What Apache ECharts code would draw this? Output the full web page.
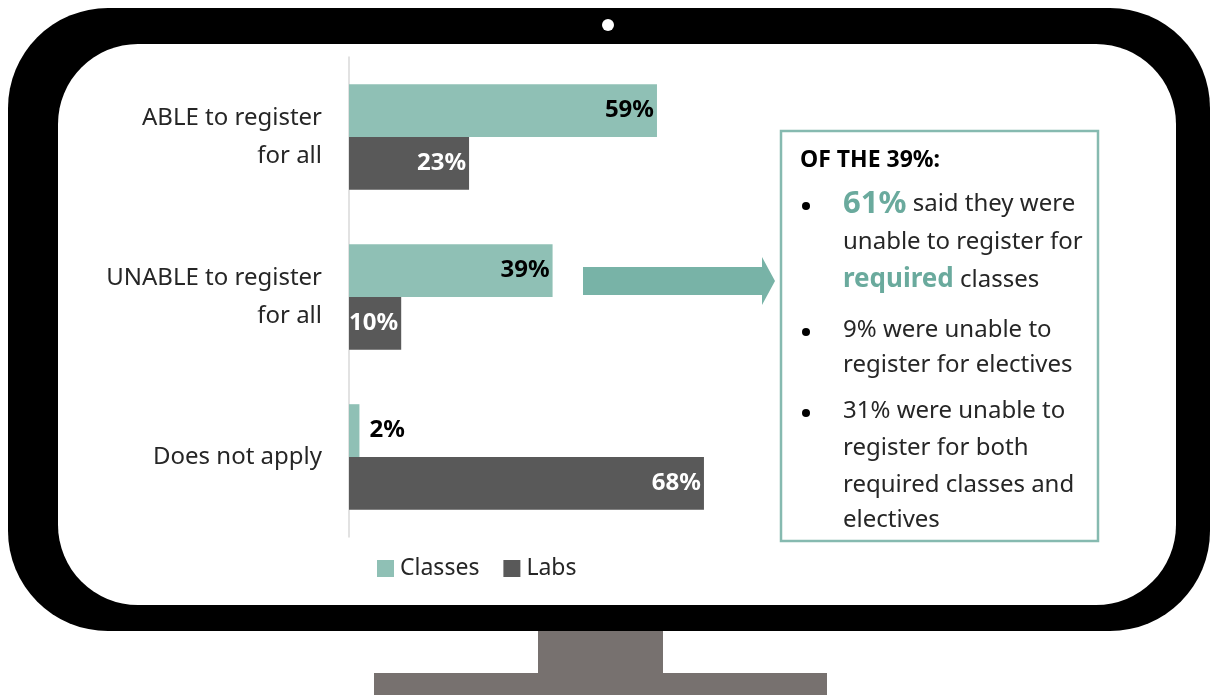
<!DOCTYPE html>
<html>
<head>
<meta charset="utf-8">
<script src="https://cdn.jsdelivr.net/npm/echarts@6/dist/echarts.min.js"></script>
<style>
  html, body { margin: 0; padding: 0; background: #fff; }
  #chart { width: 1213px; height: 695px; }
</style>
</head>
<body>
<div id="chart"></div>
<script>
const categories = ['ABLE to register\nfor all', 'UNABLE to register\nfor all', 'Does not apply'];
const classes = [59, 39, 2];
const labs = [23, 10, 68];
const seriesNames = ['Classes', 'Labs'];

const FONT = '"Noto Sans", Lato, sans-serif';
const TEAL = '#8fc0b5';
const GREY = '#595959';
const ACCENT = '#6aaa9d';

const chart = echarts.init(document.getElementById('chart'), null, { renderer: 'canvas' });

function barData(values, insideColor) {
  return values.map(v => {
    if (v < 5) {
      return { value: v, label: { position: 'right', distance: 10, color: '#000' } };
    }
    return { value: v, label: { color: insideColor } };
  });
}

// text lines in the side box
const noteLines = [
  { y: 204, text: '{big|61%} said they were' },
  { y: 242, text: 'unable to register for' },
  { y: 280, text: '{mid|required} classes' },
  { y: 330, text: '9% were unable to' },
  { y: 365, text: 'register for electives' },
  { y: 411, text: '31% were unable to' },
  { y: 448, text: 'register for both' },
  { y: 485, text: 'required classes and' },
  { y: 520, text: 'electives' }
];
const bulletY = [206, 332, 413];

const graphics = [
  // monitor frame
  { type: 'rect', z: -10, shape: { x: 8, y: 8, width: 1202, height: 623, r: 100 }, style: { fill: '#000' } },
  { type: 'rect', z: -9, shape: { x: 58, y: 44, width: 1118, height: 561, r: 80 }, style: { fill: '#fff' } },
  { type: 'circle', z: -8, shape: { cx: 608, cy: 25, r: 6 }, style: { fill: '#fff' } },
  { type: 'rect', z: -10, shape: { x: 538, y: 631, width: 125, height: 44 }, style: { fill: '#77716f' } },
  { type: 'rect', z: -10, shape: { x: 374, y: 673, width: 453, height: 22 }, style: { fill: '#77716f' } },
  // arrow
  {
    type: 'polygon', z: 5,
    shape: { points: [[583, 267], [762, 267], [762, 257], [775, 281], [762, 305], [762, 295], [583, 295]] },
    style: { fill: '#78b3a7' }
  },
  // note box
  { type: 'rect', z: 5, shape: { x: 781, y: 131, width: 317, height: 410 }, style: { fill: '#fff', stroke: '#86bab0', lineWidth: 2.5 } },
  {
    type: 'text', z: 6, x: 800, y: 160,
    style: { text: 'OF THE 39%:', font: 'bold 23px ' + FONT, fill: '#000', verticalAlign: 'middle' }
  }
];

bulletY.forEach(y => {
  graphics.push({ type: 'circle', z: 6, shape: { cx: 806, cy: y, r: 4 }, style: { fill: '#000' } });
});

noteLines.forEach(l => {
  graphics.push({
    type: 'text', z: 6, x: 843, y: l.y,
    style: {
      text: l.text,
      fontFamily: FONT,
      fontSize: 24,
      fill: '#262626',
      verticalAlign: 'middle',
      rich: {
        big: { fontSize: 31, fontWeight: 'bold', fill: ACCENT, fontFamily: FONT },
        mid: { fontSize: 26, fontWeight: 'bold', fill: ACCENT, fontFamily: FONT }
      }
    }
  });
});

const option = {
  backgroundColor: '#fff',
  animation: false,
  grid: { left: 349, top: 57, width: 522, height: 480, containLabel: false },
  legend: {
    data: seriesNames,
    left: 372,
    top: 552,
    itemWidth: 17,
    itemHeight: 17,
    itemGap: 24,
    icon: 'rect',
    textStyle: { fontFamily: FONT, fontSize: 23, color: '#262626', padding: [0, 0, 0, 1] }
  },
  xAxis: {
    type: 'value',
    min: 0,
    max: 100,
    show: false
  },
  yAxis: {
    type: 'category',
    data: categories,
    inverse: true,
    axisTick: { show: false },
    axisLine: { show: true, lineStyle: { color: '#d9d9d9', width: 1.5 } },
    axisLabel: {
      fontFamily: FONT,
      fontSize: 24,
      lineHeight: 38,
      color: '#262626',
      margin: 27,
      align: 'right'
    }
  },
  series: [
    {
      name: seriesNames[0],
      type: 'bar',
      data: barData(classes, '#000'),
      itemStyle: { color: TEAL },
      barGap: '0%',
      barCategoryGap: '34%',
      label: {
        show: true,
        position: 'insideRight',
        distance: 3,
        formatter: '{c}%',
        fontFamily: FONT,
        fontSize: 24,
        fontWeight: 'bold'
      }
    },
    {
      name: seriesNames[1],
      type: 'bar',
      data: barData(labs, '#fff'),
      itemStyle: { color: GREY },
      barGap: '0%',
      barCategoryGap: '34%',
      label: {
        show: true,
        position: 'insideRight',
        distance: 3,
        formatter: '{c}%',
        fontFamily: FONT,
        fontSize: 24,
        fontWeight: 'bold'
      }
    }
  ],
  graphic: { elements: graphics }
};

chart.setOption(option);
</script>
</body>
</html>
